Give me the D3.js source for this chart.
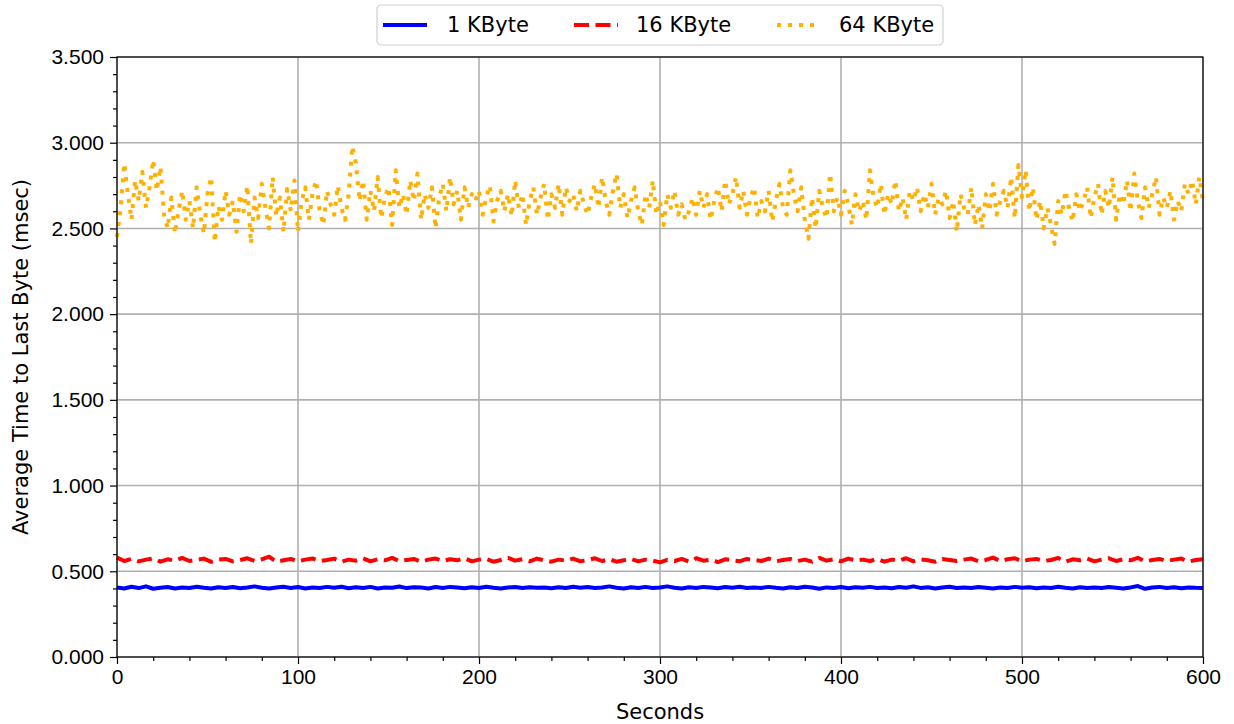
<!DOCTYPE html>
<html>
<head>
<meta charset="utf-8">
<script src="https://cdn.jsdelivr.net/npm/d3@7"></script>
<style>
  body { margin: 0; background: #fff; }
  svg { font-family: "DejaVu Sans", sans-serif; }
  .grid line { stroke: #b0b0b0; stroke-width: 1.6; }
  .axis path { display: none; }
  .axis line { stroke: #000; stroke-width: 1.2; }
  .axis text { font-size: 21px; fill: #000; }
</style>
</head>
<body>
<svg id="chart" width="1234" height="724"></svg>
<script>
'use strict';

// 64 KByte, one sample every 2 s (0..600)
const kb64 = [
  2.45, 2.62, 2.88, 2.70, 2.55, 2.78, 2.66, 2.83, 2.62, 2.74,
  2.90, 2.72, 2.86, 2.58, 2.50, 2.68, 2.47, 2.60, 2.72, 2.55,
  2.66, 2.50, 2.74, 2.58, 2.47, 2.70, 2.80, 2.42, 2.63, 2.55,
  2.72, 2.58, 2.66, 2.48, 2.70, 2.60, 2.75, 2.41, 2.68, 2.56,
  2.76, 2.62, 2.50, 2.80, 2.57, 2.68, 2.48, 2.73, 2.60, 2.78,
  2.48, 2.66, 2.74, 2.55, 2.70, 2.78, 2.60, 2.52, 2.72, 2.64,
  2.58, 2.75, 2.62, 2.55, 2.70, 2.98, 2.88, 2.66, 2.78, 2.55,
  2.72, 2.60, 2.80, 2.56, 2.68, 2.74, 2.52, 2.84, 2.62, 2.70,
  2.58, 2.78, 2.66, 2.82, 2.55, 2.70, 2.62, 2.74, 2.50, 2.68,
  2.76, 2.60, 2.80, 2.64, 2.72, 2.55, 2.74, 2.62, 2.70, 2.66,
  2.72, 2.58, 2.68, 2.75, 2.54, 2.66, 2.72, 2.60, 2.70, 2.57,
  2.78, 2.62, 2.70, 2.52, 2.66, 2.74, 2.58, 2.68, 2.76, 2.55,
  2.70, 2.62, 2.76, 2.58, 2.74, 2.66, 2.70, 2.60, 2.72, 2.64,
  2.58, 2.68, 2.76, 2.62, 2.80, 2.66, 2.58, 2.72, 2.82, 2.62,
  2.70, 2.56, 2.66, 2.74, 2.60, 2.52, 2.70, 2.62, 2.78, 2.58,
  2.66, 2.52, 2.70, 2.62, 2.72, 2.58, 2.64, 2.55, 2.60, 2.68,
  2.58, 2.72, 2.62, 2.70, 2.55, 2.66, 2.74, 2.60, 2.78, 2.64,
  2.70, 2.80, 2.62, 2.72, 2.58, 2.68, 2.74, 2.56, 2.66, 2.60,
  2.72, 2.54, 2.66, 2.76, 2.62, 2.58, 2.84, 2.70, 2.60, 2.74,
  2.55, 2.44, 2.68, 2.50, 2.72, 2.62, 2.56, 2.82, 2.60, 2.68,
  2.58, 2.72, 2.64, 2.52, 2.70, 2.60, 2.66, 2.55, 2.84, 2.68,
  2.62, 2.76, 2.58, 2.70, 2.64, 2.78, 2.60, 2.68, 2.55, 2.72,
  2.66, 2.74, 2.60, 2.70, 2.62, 2.76, 2.58, 2.68, 2.64, 2.72,
  2.56, 2.66, 2.48, 2.70, 2.62, 2.58, 2.74, 2.52, 2.64, 2.50,
  2.70, 2.60, 2.76, 2.58, 2.66, 2.72, 2.62, 2.80, 2.56, 2.87,
  2.68, 2.84, 2.60, 2.74, 2.55, 2.66, 2.50, 2.62, 2.52, 2.41,
  2.66, 2.58, 2.72, 2.62, 2.54, 2.70, 2.60, 2.66, 2.74, 2.56,
  2.68, 2.76, 2.58, 2.72, 2.62, 2.80, 2.55, 2.70, 2.64, 2.78,
  2.60, 2.82, 2.66, 2.56, 2.74, 2.62, 2.70, 2.80, 2.58, 2.68,
  2.62, 2.72, 2.55, 2.66, 2.60, 2.76, 2.70, 2.78, 2.64, 2.80,
  2.66
];

// 1 KByte, one sample every 4 s
const kb1 = [
  0.405, 0.400, 0.410, 0.402, 0.412, 0.398, 0.404, 0.408, 0.400, 0.406, 0.402, 0.410, 0.404, 0.400, 0.407,
  0.403, 0.408, 0.401, 0.406, 0.412, 0.404, 0.399, 0.405, 0.410, 0.403, 0.408, 0.400, 0.406, 0.402, 0.409,
  0.404, 0.410, 0.401, 0.407, 0.403, 0.409, 0.400, 0.406, 0.404, 0.411, 0.402, 0.407, 0.405, 0.400, 0.408,
  0.403, 0.409, 0.405, 0.401, 0.407, 0.403, 0.410, 0.404, 0.400, 0.406, 0.408, 0.402, 0.407, 0.404, 0.405,
  0.401, 0.407, 0.403, 0.410, 0.404, 0.408, 0.402, 0.406, 0.412, 0.404, 0.400, 0.407, 0.403, 0.409, 0.402,
  0.406, 0.412, 0.404, 0.400, 0.407, 0.403, 0.409, 0.405, 0.401, 0.408, 0.404, 0.410, 0.402, 0.406, 0.403,
  0.409, 0.404, 0.400, 0.407, 0.402, 0.410, 0.405, 0.398, 0.406, 0.403, 0.408, 0.401, 0.407, 0.404, 0.409,
  0.403, 0.406, 0.401, 0.408, 0.404, 0.412, 0.403, 0.407, 0.400, 0.405, 0.410, 0.402, 0.406, 0.403, 0.408,
  0.404, 0.400, 0.406, 0.402, 0.409, 0.404, 0.407, 0.401, 0.406, 0.403, 0.410, 0.404, 0.400, 0.407, 0.403,
  0.406, 0.402, 0.408, 0.404, 0.400, 0.406, 0.414, 0.398, 0.405, 0.409, 0.403, 0.407, 0.401, 0.406, 0.404,
  0.403
];

// 16 KByte, one sample every 4 s
const kb16 = [
  0.580, 0.560, 0.572, 0.558, 0.568, 0.575, 0.556, 0.570, 0.562, 0.578, 0.560, 0.566, 0.574, 0.555, 0.568,
  0.572, 0.558, 0.566, 0.576, 0.560, 0.570, 0.585, 0.556, 0.564, 0.572, 0.558, 0.568, 0.575, 0.560, 0.566,
  0.574, 0.556, 0.568, 0.562, 0.576, 0.558, 0.570, 0.564, 0.578, 0.560, 0.566, 0.572, 0.556, 0.568, 0.574,
  0.560, 0.570, 0.564, 0.576, 0.558, 0.568, 0.572, 0.556, 0.566, 0.578, 0.562, 0.570, 0.558, 0.574, 0.564,
  0.556, 0.568, 0.562, 0.574, 0.558, 0.566, 0.576, 0.560, 0.570, 0.556, 0.564, 0.572, 0.558, 0.568, 0.562,
  0.552, 0.566, 0.560, 0.572, 0.556, 0.576, 0.562, 0.568, 0.554, 0.570, 0.564, 0.558, 0.572, 0.566, 0.560,
  0.574, 0.558, 0.566, 0.572, 0.560, 0.568, 0.556, 0.578, 0.562, 0.570, 0.558, 0.574, 0.564, 0.568, 0.560,
  0.572, 0.556, 0.568, 0.562, 0.576, 0.558, 0.570, 0.564, 0.556, 0.572, 0.566, 0.560, 0.568, 0.574, 0.558,
  0.566, 0.580, 0.560, 0.570, 0.576, 0.558, 0.568, 0.572, 0.560, 0.566, 0.578, 0.556, 0.570, 0.564, 0.574,
  0.558, 0.568, 0.576, 0.560, 0.570, 0.564, 0.578, 0.558, 0.566, 0.572, 0.560, 0.568, 0.574, 0.556, 0.566,
  0.570
];

const seriesNames = ["1 KByte", "16 KByte", "64 KByte"];
const seriesColors = ["#0000ff", "#ff0000", "#ffb000"];
const xTicks = [0, 100, 200, 300, 400, 500, 600];
const yTicks = [0, 0.5, 1.0, 1.5, 2.0, 2.5, 3.0, 3.5];

const svg = d3.select("#chart");
const m = { left: 117, right: 31, top: 57, bottom: 67 };
const W = 1234, H = 724;

const x = d3.scaleLinear().domain([0, 600]).range([m.left, W - m.right]);
const y = d3.scaleLinear().domain([0, 3.5]).range([H - m.bottom, m.top]);

// grid
const grid = svg.append("g").attr("class", "grid");
grid.selectAll(".gx").data(xTicks).enter().append("line")
  .attr("x1", d => x(d)).attr("x2", d => x(d))
  .attr("y1", y(0)).attr("y2", y(3.5));
grid.selectAll(".gy").data(yTicks).enter().append("line")
  .attr("x1", x(0)).attr("x2", x(600))
  .attr("y1", d => y(d)).attr("y2", d => y(d));

// series
const series = [
  { vals: kb1, step: 4, dash: null },
  { vals: kb16, step: 4, dash: "15,6.5" },
  { vals: kb64, step: 2, dash: "4,7" }
];

const line = d3.line().x(d => x(d[0])).y(d => y(d[1]));
const plot = svg.append("g");
series.forEach((s, i) => {
  const pts = s.vals.map((v, k) => [k * s.step, v]);
  plot.append("path")
    .attr("d", line(pts))
    .attr("fill", "none")
    .attr("stroke", seriesColors[i])
    .attr("stroke-width", 4)
    .attr("stroke-linejoin", "round")
    .attr("stroke-dasharray", s.dash);
});

// axes
svg.append("g").attr("class", "axis")
  .attr("transform", `translate(0,${y(0)})`)
  .call(d3.axisBottom(x).tickValues(xTicks).tickSize(7).tickPadding(5).tickFormat(d3.format("d")));
svg.append("g").attr("class", "axis")
  .attr("transform", `translate(0,${y(0)})`)
  .call(d3.axisBottom(x).tickValues(d3.range(0, 601, 20).filter(d => d % 100)).tickSize(4).tickFormat(""));
svg.append("g").attr("class", "axis")
  .attr("transform", `translate(${x(0)},0)`)
  .call(d3.axisLeft(y).tickValues(yTicks).tickSize(7).tickPadding(6).tickFormat(d3.format(".3f")));
svg.append("g").attr("class", "axis")
  .attr("transform", `translate(${x(0)},0)`)
  .call(d3.axisLeft(y).tickValues(d3.range(1, 35).filter(d => d % 5).map(d => d / 10)).tickSize(4).tickFormat(""));

// frame
svg.append("rect")
  .attr("x", x(0)).attr("y", y(3.5))
  .attr("width", x(600) - x(0)).attr("height", y(0) - y(3.5))
  .attr("fill", "none").attr("stroke", "#000").attr("stroke-width", 1.2);

// labels
svg.append("text")
  .attr("x", (x(0) + x(600)) / 2).attr("y", 719)
  .attr("text-anchor", "middle").attr("font-size", 21)
  .text("Seconds");
svg.append("text")
  .attr("transform", `translate(28,${(y(0) + y(3.5)) / 2}) rotate(-90)`)
  .attr("text-anchor", "middle").attr("font-size", 21)
  .text("Average Time to Last Byte (msec)");

// legend
const lg = svg.append("g");
lg.append("rect")
  .attr("x", 377).attr("y", 5).attr("width", 566).attr("height", 40)
  .attr("rx", 4).attr("fill", "#fff").attr("stroke", "#d0d0d0").attr("stroke-width", 1.2);
const legendX = [383, 574, 777];
const legendTextX = [447, 636, 839];
seriesNames.forEach((name, i) => {
  lg.append("line")
    .attr("x1", legendX[i]).attr("x2", legendX[i] + 44)
    .attr("y1", 25).attr("y2", 25)
    .attr("stroke", seriesColors[i]).attr("stroke-width", 4)
    .attr("stroke-dasharray", series[i].dash);
  lg.append("text")
    .attr("x", legendTextX[i]).attr("y", 32)
    .attr("font-size", 21)
    .text(name);
});
</script>
</body>
</html>
